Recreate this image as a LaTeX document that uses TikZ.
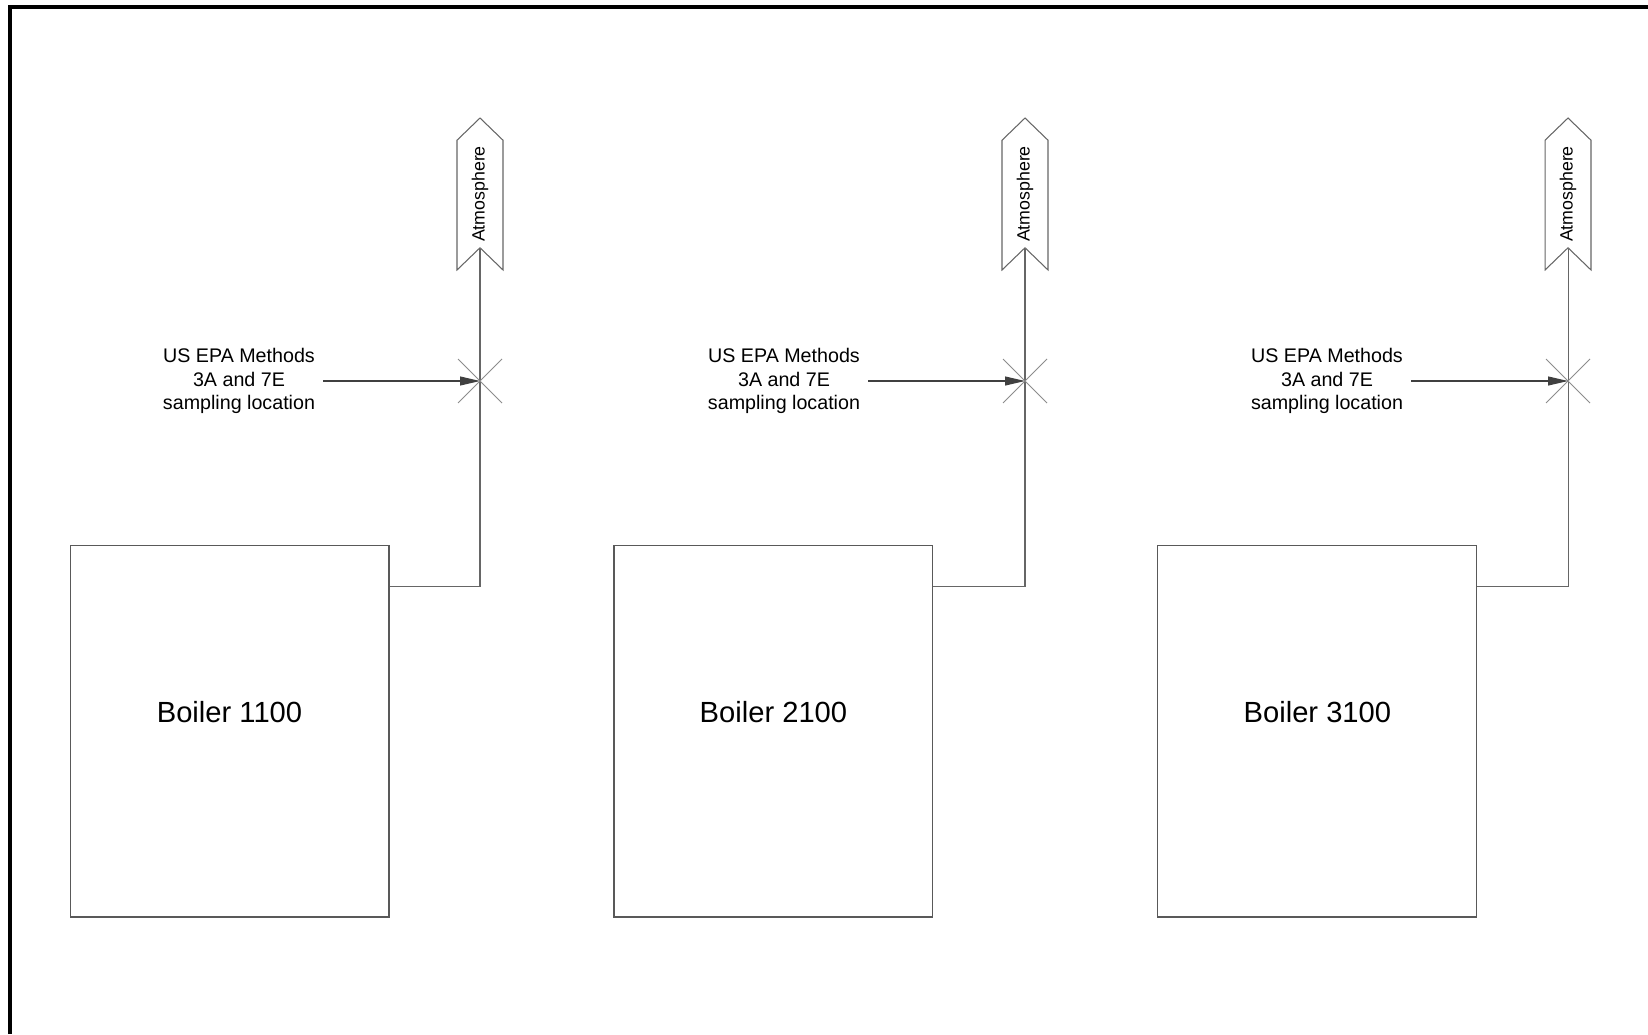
\documentclass[tikz,border=0pt]{standalone}
\usepackage{fontspec}
\setmainfont{Liberation Sans}
\usetikzlibrary{shapes.symbols, arrows.meta, positioning, calc}
\tikzset{
    boiler/.style={rectangle, draw=black!65, line width=0.6pt, minimum width=6.38cm, minimum height=7.44cm, inner sep=0pt},
    vent/.style={signal, signal to=east, signal from=west, signal pointer angle=92, draw=black!60, line width=0.6pt, minimum width=3.04cm, minimum height=0.92cm, inner sep=0pt, rotate=90, font=\fontsize{10.1}{12}\selectfont},
    pipe/.style={draw=black!60, line width=0.6pt},
    probe/.style={draw=black!45, line width=0.5pt},
    note/.style={align=center, font=\fontsize{11.2}{13.3}\selectfont, inner xsep=4.5pt},
    boilertext/.style={font=\fontsize{16.6}{19}\selectfont, yshift=0.38cm},
    arrowline/.style={-{Triangle[length=0.4cm, width=0.18cm]}, draw=black!75, line width=0.6pt}
}
\begin{document}
\begin{tikzpicture}[x=0.02cm, y=-0.02cm]
  \useasboundingbox (0,0) rectangle (1648,1034);
  % frame
  \draw[line width=1.9pt] (10,1034) -- (10,7) -- (1648,7);
  % boilers
  \node[boiler, label={[boilertext]center:Boiler 1100}] (b1) at (229.5,731) {};
  \node[boiler, right=4.48cm of b1, label={[boilertext]center:Boiler 2100}] (b2) {};
  \node[boiler, right=4.48cm of b2, label={[boilertext]center:Boiler 3100}] (b3) {};
  % stacks to atmosphere
  \node[vent] (a1) at (480,194) {Atmosphere};
  \node[vent] (a2) at (1025,194) {Atmosphere};
  \node[vent] (a3) at (1568,194) {Atmosphere};
  \draw[pipe] ($(b1.north east)+(0,42)$) -| (a1.west);
  \draw[pipe] ($(b2.north east)+(0,42)$) -| (a2.west);
  \draw[pipe] ($(b3.north east)+(0,42)$) -| (a3.west);
  % sampling points
  \coordinate (x1) at (480,381);
  \coordinate (x2) at (1025,381);
  \coordinate (x3) at (1568,381);
  \draw[probe] ($(x1)+(-22,-22)$) -- ($(x1)+(22,22)$) ($(x1)+(-22,22)$) -- ($(x1)+(22,-22)$);
  \draw[probe] ($(x2)+(-22,-22)$) -- ($(x2)+(22,22)$) ($(x2)+(-22,22)$) -- ($(x2)+(22,-22)$);
  \draw[probe] ($(x3)+(-22,-22)$) -- ($(x3)+(22,22)$) ($(x3)+(-22,22)$) -- ($(x3)+(22,-22)$);
  \node[note] (s1) at (239,381) {US EPA Methods\\3A and 7E\\sampling location};
  \node[note] (s2) at (784,381) {US EPA Methods\\3A and 7E\\sampling location};
  \node[note] (s3) at (1327,381) {US EPA Methods\\3A and 7E\\sampling location};
  \draw[arrowline] (s1) -- (x1);
  \draw[arrowline] (s2) -- (x2);
  \draw[arrowline] (s3) -- (x3);
\end{tikzpicture}
\end{document}
